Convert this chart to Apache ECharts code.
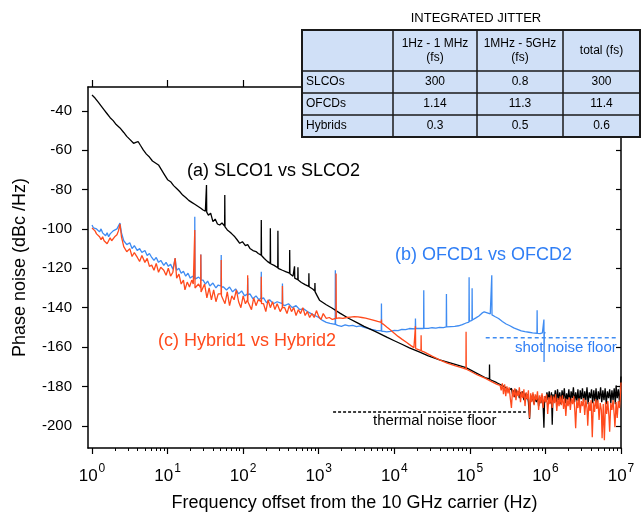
<!DOCTYPE html>
<html><head><meta charset="utf-8">
<script src="https://cdn.jsdelivr.net/npm/echarts@6.0.0/dist/echarts.min.js"></script>
<style>html,body{margin:0;padding:0;background:#fff}#c{width:642px;height:520px}</style>
</head><body><div id="c"></div>
<script>
// Each point: [log10(frequency offset in Hz), phase noise dBc/Hz]
const slcoPts = [
[0.00,-32],[0.04,-33.5],[0.08,-35.5],[0.12,-37.5],[0.16,-39.5],[0.20,-41.5],[0.24,-43.5],[0.28,-45],[0.32,-47],[0.37,-48.7],
[0.42,-51],[0.46,-53],[0.50,-54.5],[0.55,-56.5],[0.58,-56],[0.61,-55.6],[0.64,-57.5],[0.68,-60],[0.72,-62],[0.76,-63.5],
[0.80,-65.5],[0.84,-66.5],[0.86,-65.5],[0.88,-67.5],[0.92,-70],[0.96,-72.5],[1.00,-75],[1.04,-76],[1.08,-78],[1.12,-79.5],
[1.16,-81],[1.20,-82.8],[1.24,-84],[1.28,-85.5],[1.32,-86.5],[1.36,-87.5],[1.40,-88.5],[1.44,-89.5],[1.47,-90.4],[1.50,-91],
[1.512,-90.5],[1.515,-77.7],[1.518,-91.5],[1.54,-93],[1.57,-92],[1.60,-96.3],[1.63,-95],[1.66,-97.5],[1.69,-98],[1.72,-97],
[1.755,-98.5],[1.757,-82.8],[1.76,-99],[1.79,-100.5],[1.82,-101.4],[1.85,-102.5],[1.89,-104],[1.92,-105.5],[1.955,-107.3],[1.99,-106.5],
[2.03,-108.5],[2.06,-108],[2.09,-109.9],[2.13,-111],[2.17,-111.5],[2.20,-112.5],[2.238,-113.3],[2.24,-95.5],[2.243,-113.5],[2.28,-115],
[2.32,-116.5],[2.358,-117.5],[2.36,-99.7],[2.363,-117.7],[2.41,-118.5],[2.458,-119.7],[2.46,-100.9],[2.463,-120],[2.52,-121],[2.57,-121.8],
[2.614,-122.5],[2.616,-110.7],[2.619,-122.8],[2.66,-124],[2.678,-124.8],[2.68,-119],[2.683,-125],[2.723,-125.8],[2.725,-119.5],[2.728,-126],
[2.77,-127.2],[2.82,-128.3],[2.868,-129.2],[2.87,-122.5],[2.873,-129.4],[2.92,-130.5],[2.948,-131.5],[2.95,-127.5],[2.953,-132],[2.98,-134],
[3.01,-136.2],[3.10,-138.5],[3.18,-140.3],[3.28,-142.8],[3.40,-145.5],[3.50,-147.5],[3.60,-149.5],[3.76,-152.3],[3.90,-155],[4.00,-156.8],
[4.10,-158.6],[4.20,-160.4],[4.33,-162.5],[4.45,-164.5],[4.60,-166.5],[4.75,-168.2],[4.95,-170.5],[5.10,-173.5],[5.20,-175.5],[5.258,-176.2],
[5.26,-168.9],[5.263,-176.5],[5.35,-178],[5.45,-180],[5.52,-182],
[5.55,-181],[5.565,-184],[5.58,-182],[5.595,-185.5],[5.61,-181.5],[5.625,-184.5],[5.64,-182.5],[5.655,-186],[5.67,-183],[5.685,-185],
[5.70,-182.5],[5.715,-187],[5.73,-183.5],[5.745,-186.5],[5.76,-184],[5.775,-188],[5.79,-196.5],[5.805,-184.5],[5.82,-187.5],[5.835,-184],
[5.85,-189],[5.865,-185],[5.88,-188],[5.895,-184.5],[5.91,-190],[5.925,-185.5],[5.94,-188.5],[5.955,-184.5],[5.97,-190.5],[5.98,-201],
[5.99,-185],[6.005,-188],[6.02,-183],[6.035,-187],[6.05,-182.5],[6.065,-188.5],[6.08,-183],[6.09,-199.5],[6.10,-184],[6.115,-187.5],
[6.13,-182],[6.145,-188],[6.16,-181.5],[6.175,-187],[6.19,-183],[6.205,-189],[6.22,-182],[6.235,-186.5],[6.25,-181],[6.265,-188.5],
[6.28,-183.5],[6.295,-187],[6.31,-181.5],[6.325,-189],[6.34,-182.5],[6.355,-186],[6.37,-180.5],[6.385,-188],[6.40,-183],[6.415,-187.5],
[6.43,-181.5],[6.445,-189.5],[6.46,-182],[6.475,-186.5],[6.49,-181],[6.505,-188],[6.52,-182.5],[6.535,-187],[6.55,-180.5],[6.565,-189],
[6.58,-183],[6.595,-186],[6.61,-181.5],[6.625,-188.5],[6.64,-182],[6.655,-187.5],[6.67,-181],[6.685,-189.5],[6.70,-182.5],[6.715,-186.5],
[6.73,-180.5],[6.745,-188],[6.76,-182],[6.775,-187],[6.79,-181],[6.805,-189],[6.82,-182.5],[6.835,-186],[6.85,-181.5],[6.865,-188.5],
[6.88,-182],[6.895,-187],[6.91,-181],[6.925,-189],[6.935,-179.5],[6.95,-186],[6.965,-181.5],[6.98,-188],[6.99,-183],[7.00,-175]
];
const ofcdPts = [
[0.00,-98],[0.02,-99.5],[0.04,-98.5],[0.06,-100],[0.08,-99],[0.10,-101.5],[0.12,-100],[0.14,-102],[0.16,-101],[0.18,-103.5],
[0.20,-102],[0.22,-104],[0.24,-102.5],[0.26,-103],[0.28,-101],[0.30,-102],[0.33,-100],[0.35,-99],[0.37,-97],[0.39,-102],
[0.42,-106],[0.46,-108],[0.50,-107],[0.53,-110],[0.56,-108.5],[0.60,-111],[0.63,-110],[0.66,-112],[0.70,-111],[0.73,-113.5],
[0.76,-112.5],[0.79,-114.5],[0.82,-116],[0.85,-114.5],[0.88,-117],[0.91,-116],[0.95,-118.5],[0.98,-117],[1.01,-119],[1.04,-118],
[1.07,-120.5],[1.10,-115],[1.12,-121],[1.15,-120],[1.18,-122.5],[1.21,-121.5],[1.24,-124],[1.27,-122.5],[1.30,-125],[1.33,-124],
[1.358,-125],[1.36,-93.8],[1.363,-125.5],[1.38,-126],[1.41,-124.5],[1.438,-125.5],[1.44,-113],[1.443,-126],[1.47,-126],[1.50,-128],
[1.53,-126.5],[1.56,-129],[1.60,-127.5],[1.64,-130],[1.67,-128.5],[1.708,-129],[1.71,-113.3],[1.713,-129.5],[1.74,-129.5],[1.78,-131],
[1.82,-129.5],[1.86,-132],[1.90,-130.5],[1.94,-133],[1.98,-131.5],[2.02,-134],[2.058,-133],[2.06,-125],[2.063,-133.5],[2.09,-133],
[2.13,-135.5],[2.17,-134],[2.21,-136],[2.238,-135],[2.24,-121.8],[2.243,-135.5],[2.27,-135],[2.31,-137.5],[2.35,-136],[2.40,-138],
[2.45,-137],[2.518,-138],[2.52,-127.7],[2.523,-138.5],[2.55,-139],[2.60,-138],[2.65,-140],[2.70,-139],[2.75,-141],[2.80,-140.5],
[2.85,-142],[2.90,-143],[2.95,-144],[3.00,-145],[3.05,-146.5],[3.10,-147.5],[3.15,-148],[3.218,-148.5],[3.22,-121],[3.223,-148.5],
[3.25,-149],[3.30,-149.5],[3.35,-148.8],[3.40,-149.3],[3.45,-149],[3.50,-149.6],[3.55,-149.3],[3.60,-150],[3.65,-150.5],[3.70,-151],
[3.76,-151.5],[3.828,-151.8],[3.83,-137.9],[3.833,-152],[3.86,-152],[3.90,-152.3],[3.95,-152],[4.00,-151.5],[4.05,-151.7],[4.10,-151],
[4.15,-151.2],[4.20,-150.6],[4.278,-150.8],[4.28,-145.5],[4.283,-150.6],[4.33,-150.5],[4.388,-150.6],[4.39,-131.1],[4.393,-150.4],[4.45,-150.5],
[4.50,-150.2],[4.55,-150.4],[4.60,-150],[4.65,-150.1],[4.688,-149.8],[4.69,-133.1],[4.693,-149.8],[4.75,-149.6],[4.80,-149.5],[4.85,-149.2],
[4.90,-148.6],[4.95,-147.8],[4.988,-147.3],[4.99,-124.5],[4.993,-147],[5.028,-146.5],[5.03,-130.2],[5.033,-146.3],[5.08,-145.2],[5.12,-144.2],
[5.16,-142.8],[5.19,-142.1],[5.23,-142.6],[5.27,-143.2],[5.288,-143.5],[5.29,-123.5],[5.293,-143.7],[5.33,-144.5],[5.38,-145.5],[5.43,-147],
[5.48,-148.3],[5.53,-149.2],[5.58,-150.3],[5.63,-151],[5.68,-151.8],[5.73,-152.2],[5.78,-152.5],[5.83,-152.8],[5.888,-153],[5.89,-141.3],
[5.893,-153.1],[5.93,-153.2],[5.96,-152.8],[5.978,-152.5],[5.98,-146],[5.982,-167.6],[5.985,-152.5],[6.00,-153]
];
const hybridPts = [
[0.00,-99.5],[0.02,-100.5],[0.04,-101],[0.06,-102.5],[0.08,-101.5],[0.10,-104],[0.12,-105.5],[0.14,-104],[0.16,-106],[0.18,-105],
[0.20,-107.5],[0.22,-106],[0.24,-104.5],[0.26,-106],[0.30,-104],[0.33,-103],[0.35,-101],[0.37,-97.5],[0.39,-104],[0.42,-109],
[0.46,-111.6],[0.50,-110],[0.53,-114],[0.56,-112],[0.60,-114.5],[0.63,-116.5],[0.66,-113.5],[0.70,-117],[0.73,-115],[0.76,-119],
[0.79,-118.4],[0.82,-121],[0.85,-117.5],[0.88,-122],[0.91,-119.5],[0.95,-121],[0.98,-123.5],[1.01,-120],[1.04,-124],[1.07,-122],
[1.10,-114.8],[1.12,-125],[1.15,-123],[1.18,-128],[1.21,-126],[1.23,-131],[1.26,-127],[1.29,-129.5],[1.32,-126],[1.34,-128],
[1.358,-127],[1.36,-100.6],[1.363,-130],[1.38,-130],[1.41,-128],[1.438,-130],[1.44,-113],[1.443,-132],[1.46,-132],[1.49,-128],
[1.52,-135],[1.55,-130],[1.58,-136],[1.61,-131],[1.64,-137],[1.67,-133],[1.708,-133],[1.71,-115.8],[1.713,-134],[1.73,-134],
[1.76,-138],[1.79,-132],[1.82,-139],[1.85,-134],[1.88,-136],[1.91,-131],[1.94,-137],[1.97,-140],[2.00,-134],[2.03,-138],
[2.058,-136],[2.06,-123.5],[2.063,-137],[2.08,-136],[2.11,-141],[2.14,-135],[2.17,-139],[2.20,-136],[2.238,-137],[2.24,-124.3],
[2.243,-138],[2.27,-138],[2.30,-142],[2.33,-136],[2.36,-140],[2.39,-137],[2.42,-141],[2.45,-138],[2.49,-142],[2.518,-140],
[2.52,-129],[2.523,-140],[2.55,-140],[2.58,-143],[2.61,-139],[2.64,-142],[2.67,-140],[2.70,-144],[2.73,-141],[2.76,-143],
[2.79,-140],[2.82,-144],[2.85,-142],[2.88,-145],[2.91,-143],[2.94,-145],[2.97,-141.5],[3.00,-144.5],[3.03,-146],[3.06,-143],
[3.10,-145.5],[3.14,-145],[3.18,-146],[3.228,-145.5],[3.23,-122.6],[3.233,-145.5],[3.27,-145.2],[3.32,-145.4],[3.37,-145],[3.42,-144.8],
[3.47,-144.6],[3.52,-144.7],[3.57,-145],[3.62,-145.3],[3.67,-145.8],[3.72,-146.3],[3.78,-147],[3.828,-147.5],[3.83,-146],[3.833,-148],
[3.86,-148.5],[3.90,-149.8],[3.95,-151.3],[4.00,-153],[4.05,-154.6],[4.10,-156],[4.16,-157.6],[4.22,-159.3],[4.26,-160.3],[4.278,-160.6],
[4.28,-149.4],[4.283,-160.8],[4.32,-161.3],[4.353,-161.8],[4.355,-154],[4.358,-162],[4.40,-162.6],[4.50,-164.6],[4.60,-166.5],[4.70,-168.2],
[4.80,-169.5],[4.90,-170.6],[4.948,-171.2],[4.95,-152.3],[4.953,-171.3],[5.00,-172.2],[5.10,-174.2],[5.20,-175.8],[5.30,-177.8],[5.36,-179],
[5.40,-179.5],[5.415,-182],[5.43,-178.5],[5.445,-184],[5.46,-179],[5.475,-185],[5.49,-180],[5.505,-183.5],[5.52,-180.5],[5.535,-186],
[5.55,-191],[5.565,-181.5],[5.58,-185.5],[5.595,-181],[5.61,-187],[5.625,-182],[5.64,-185],[5.655,-180.5],[5.67,-188],[5.685,-182.5],
[5.70,-186],[5.715,-181.5],[5.73,-190],[5.745,-183],[5.76,-186.5],[5.775,-182],[5.79,-196],[5.805,-183.5],[5.82,-188],[5.835,-183],
[5.85,-189.5],[5.865,-184],[5.88,-187],[5.895,-182.5],[5.91,-192],[5.925,-184.5],[5.94,-188.5],[5.955,-183.5],[5.97,-191],[5.985,-185],
[6.00,-188],[6.015,-184],[6.03,-194],[6.045,-185.5],[6.06,-189],[6.075,-184.5],[6.09,-191],[6.105,-185],[6.12,-188.5],[6.135,-184],
[6.15,-192.5],[6.165,-186],[6.18,-190],[6.195,-185],[6.21,-189.5],[6.225,-184.5],[6.24,-191.5],[6.255,-186],[6.27,-195],[6.285,-186.5],
[6.30,-190],[6.315,-185.5],[6.33,-192],[6.345,-186],[6.36,-189],[6.375,-185],[6.39,-193],[6.40,-201.3],[6.415,-187],[6.43,-191],
[6.445,-186],[6.46,-193.5],[6.475,-187.5],[6.49,-190],[6.505,-186],[6.52,-194.5],[6.535,-187],[6.55,-191],[6.56,-200],[6.575,-188],
[6.59,-192.5],[6.605,-187],[6.62,-205.8],[6.635,-188],[6.65,-193],[6.665,-186.5],[6.68,-191.5],[6.695,-187],[6.71,-197],[6.725,-188.5],
[6.74,-192],[6.75,-206.3],[6.765,-189],[6.78,-207.4],[6.795,-188],[6.81,-194],[6.825,-187.5],[6.84,-195],[6.85,-203],[6.865,-188.5],
[6.88,-192],[6.895,-187],[6.91,-194.5],[6.92,-200.7],[6.935,-188],[6.95,-196],[6.965,-187.5],[6.98,-191],[6.99,-186],[7.00,-178]
];
const shotFloorPts = [[5.21,-155.3],[6.93,-155.3]];
const thermalFloorPts = [[3.19,-193],[5.74,-193]];

const decadeExps = [0,1,2,3,4,5,6,7];
const yTickValues = [-200,-180,-160,-140,-120,-100,-80,-60,-40];

const tableTitle = 'INTEGRATED JITTER';
const tableHeader = ['', '1Hz - 1 MHz\n(fs)', '1MHz - 5GHz\n(fs)', 'total (fs)'];
const tableRowNames = ['SLCOs','OFCDs','Hybrids'];
const tableValues = [['300','0.8','300'],['1.14','11.3','11.4'],['0.3','0.5','0.6']];

const seriesLabels = ['(a) SLCO1 vs SLCO2','(b) OFCD1 vs OFCD2','(c) Hybrid1 vs Hybrid2'];

const BLACK = '#000000', BLUE = '#3f8cf2', BLUE_TXT = '#2f7ef5', RED = '#ff4a1c';
const FONT = 'Liberation Sans, Arial, Helvetica, sans-serif';

const toData = pts => pts.map(p => [Math.pow(10, p[0]), p[1]]);
const decades = decadeExps.map(e => Math.pow(10, e));
const minors = [];
decadeExps.slice(0, 7).forEach(e => { for (let k = 2; k <= 9; k++) minors.push(k * Math.pow(10, e)); });

const XMIN = Math.pow(10, -0.053), XMAX = 1e7, YMIN = -211.3, YMAX = -27.9;

// table graphic
const tX = [302, 393, 477, 563, 640];
const tY = [30, 71, 93, 115, 137];
const g = [];
g.push({type:'text', z:100, style:{text: tableTitle, x: 476, y: 18, align:'center', verticalAlign:'middle', font: '13px ' + FONT, fill:'#000'}});
g.push({type:'rect', z:100, shape:{x:tX[0], y:tY[0], width:tX[4]-tX[0], height:tY[4]-tY[0]}, style:{fill:'#d0e0f7', stroke:'#1a1a1a', lineWidth:2}});
for (let i = 1; i < 4; i++) g.push({type:'line', z:101, shape:{x1:tX[i], y1:tY[0], x2:tX[i], y2:tY[4]}, style:{stroke:'#1a1a1a', lineWidth:1.5}});
for (let j = 1; j < 4; j++) g.push({type:'line', z:101, shape:{x1:tX[0], y1:tY[j], x2:tX[4], y2:tY[j]}, style:{stroke:'#1a1a1a', lineWidth:1.5}});
for (let i = 1; i < 4; i++) {
  g.push({type:'text', z:102, style:{text: tableHeader[i], x:(tX[i]+tX[i+1])/2, y:(tY[0]+tY[1])/2, align:'center', verticalAlign:'middle', font:'12px ' + FONT, lineHeight:14, fill:'#000'}});
}
for (let r = 0; r < 3; r++) {
  const cy = (tY[r+1]+tY[r+2])/2;
  g.push({type:'text', z:102, style:{text: tableRowNames[r], x:tX[0]+4, y:cy, align:'left', verticalAlign:'middle', font:'12px ' + FONT, fill:'#000'}});
  for (let c = 0; c < 3; c++) {
    g.push({type:'text', z:102, style:{text: tableValues[r][c], x:(tX[c+1]+tX[c+2])/2, y:cy, align:'center', verticalAlign:'middle', font:'12px ' + FONT, fill:'#000'}});
  }
}
// series annotations
g.push({type:'text', z:50, style:{text: seriesLabels[0], x:187, y:171, align:'left', verticalAlign:'middle', font:'18px ' + FONT, fill:BLACK}});
g.push({type:'text', z:50, style:{text: seriesLabels[1], x:395, y:255, align:'left', verticalAlign:'middle', font:'18px ' + FONT, fill:BLUE_TXT}});
g.push({type:'text', z:50, style:{text: seriesLabels[2], x:158, y:341, align:'left', verticalAlign:'middle', font:'18px ' + FONT, fill:RED}});
g.push({type:'text', z:50, style:{text: 'shot noise floor', x:515, y:348, align:'left', verticalAlign:'middle', font:'15px ' + FONT, fill:BLUE_TXT}});
g.push({type:'text', z:50, style:{text: 'thermal noise floor', x:373, y:421, align:'left', verticalAlign:'middle', font:'15px ' + FONT, fill:BLACK}});

const axisLineStyle = {color:'#000', width:1.5};
const chart = echarts.init(document.getElementById('c'), null, {renderer:'canvas'});
chart.setOption({
  animation: false,
  backgroundColor: '#fff',
  grid: {left: 88, right: 21, top: 87, bottom: 72, containLabel: false},
  xAxis: [
    {type:'log', logBase:10, min:XMIN, max:XMAX, position:'bottom',
     name:'Frequency offset from the 10 GHz carrier (Hz)', nameLocation:'middle', nameGap:46,
     nameTextStyle:{fontSize:18, fontFamily:FONT, color:'#000'},
     axisLine:{lineStyle:axisLineStyle, onZero:false},
     axisTick:{customValues:decades, length:6, inside:false, lineStyle:{color:'#000', width:1.2}},
     axisLabel:{customValues:decades, margin:15, color:'#000',
       formatter: v => '{b|10}{s|' + Math.round(Math.log10(v)) + '}',
       rich:{b:{fontSize:17, fontFamily:FONT, lineHeight:22, verticalAlign:'bottom', color:'#000'},
             s:{fontSize:12, fontFamily:FONT, lineHeight:12, verticalAlign:'top', color:'#000', padding:[0,0,0,1]}}},
     splitLine:{show:false}},
    {type:'log', logBase:10, min:XMIN, max:XMAX, position:'bottom',
     axisLine:{show:false}, axisLabel:{show:false}, splitLine:{show:false},
     axisTick:{customValues:minors, length:3, inside:false, lineStyle:{color:'#000', width:1}}},
    {type:'log', logBase:10, min:XMIN, max:XMAX, position:'top',
     axisLine:{lineStyle:axisLineStyle, onZero:false}, axisLabel:{show:false}, splitLine:{show:false},
     axisTick:{customValues:decades, length:7, inside:false, lineStyle:{color:'#000', width:1.2}}}
  ],
  yAxis: [
    {type:'value', min:YMIN, max:YMAX, position:'left',
     name:'Phase noise (dBc /Hz)', nameLocation:'middle', nameGap:59,
     nameTextStyle:{fontSize:18, fontFamily:FONT, color:'#000'},
     axisLine:{show:true, lineStyle:axisLineStyle, onZero:false},
     axisTick:{show:true, customValues:yTickValues, length:6, inside:false, lineStyle:{color:'#000', width:1.2}},
     axisLabel:{customValues:yTickValues, margin:16, fontSize:15, fontFamily:FONT, color:'#000'},
     splitLine:{show:false}},
    {type:'value', min:YMIN, max:YMAX, position:'right',
     axisLine:{show:true, lineStyle:axisLineStyle, onZero:false},
     axisTick:{show:true, customValues:yTickValues, length:5, inside:true, lineStyle:{color:'#000', width:1.2}},
     axisLabel:{show:false}, splitLine:{show:false}}
  ],
  series: [
    {name:'OFCD', type:'line', data:toData(ofcdPts), symbol:'none', lineStyle:{color:BLUE, width:1.3}, z:2, clip:true},
    {name:'SLCO', type:'line', data:toData(slcoPts), symbol:'none', lineStyle:{color:BLACK, width:1.3}, z:3, clip:true},
    {name:'Hybrid', type:'line', data:toData(hybridPts), symbol:'none', lineStyle:{color:RED, width:1.3}, z:4, clip:true},
    {name:'shot', type:'line', data:toData(shotFloorPts), symbol:'none', lineStyle:{color:BLUE, width:1.5, type:[4,3]}, z:5},
    {name:'thermal', type:'line', data:toData(thermalFloorPts), symbol:'none', lineStyle:{color:BLACK, width:1.5, type:[3,2]}, z:5}
  ],
  graphic: g
});
</script></body></html>
